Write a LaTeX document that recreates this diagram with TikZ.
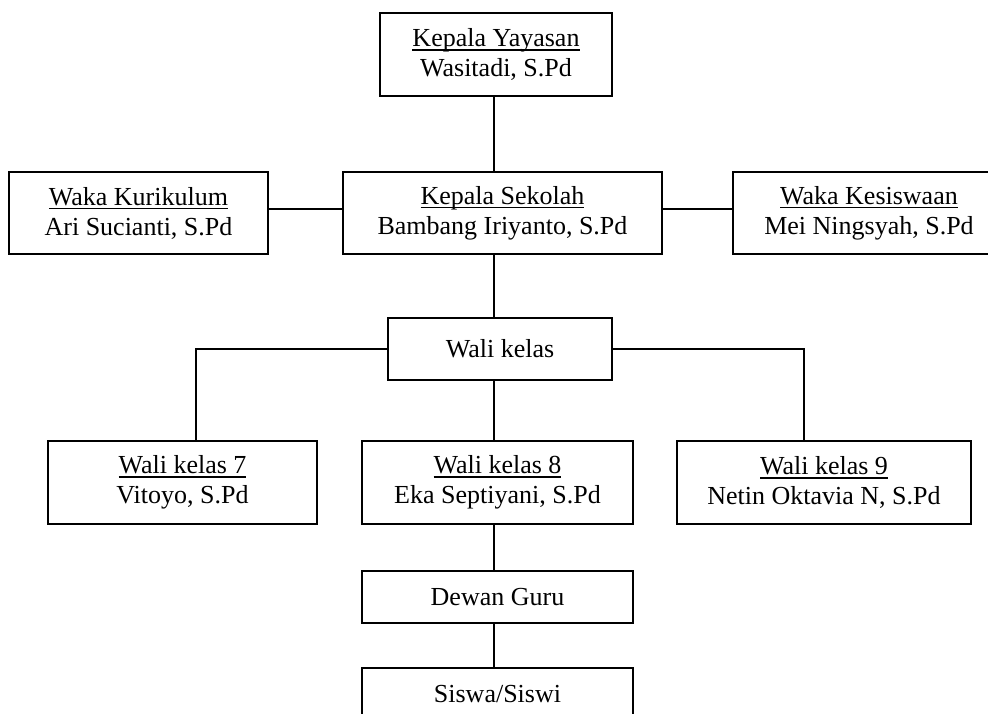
\documentclass[tikz,border=0pt]{standalone}
\usepackage{fontspec}
\setmainfont{Liberation Serif}
\newcommand{\myul}[1]{\setbox0\hbox{#1}\rlap{\rule[-4pt]{\wd0}{1.5pt}}\box0}
\begin{document}
\begin{tikzpicture}[x=1pt,y=-1pt,
  orgbox/.style={draw=black,line width=1.5pt,fill=white,inner sep=0pt,align=center,
     font=\fontsize{26}{30}\selectfont},
  conn/.style={draw=black,line width=1.5pt}]
\clip (0,0) rectangle (988,713);
\fill[white] (0,0) rectangle (988,713);
\coordinate (col) at (494,0);
\coordinate (h1) at (0,209);
\coordinate (c7) at (196,0);
\coordinate (c9) at (804,0);
% nodes
\node[orgbox,minimum width=232pt,minimum height=83pt] (KY) at (496,54.5) {\myul{Kepala Yayasan}\\Wasitadi, S.Pd};
\node[orgbox,minimum width=319pt,minimum height=82pt] (KS) at (502.5,213) {\myul{Kepala Sekolah}\\Bambang Iriyanto, S.Pd};
\node[orgbox,minimum width=259pt,minimum height=82pt] (WK) at (138.5,213) {\myul{Waka Kurikulum}\\Ari Sucianti, S.Pd};
\node[orgbox,minimum width=272pt,minimum height=82pt] (WKes) at (869,213) {\myul{Waka Kesiswaan}\\Mei Ningsyah, S.Pd};
\node[orgbox,minimum width=224pt,minimum height=62pt] (WKls) at (500,349) {Wali kelas};
\node[orgbox,minimum width=269pt,minimum height=83pt] (WK7) at (182.5,482.5) {\myul{Wali kelas 7}\\Vitoyo, S.Pd};
\node[orgbox,minimum width=271pt,minimum height=83pt] (WK8) at (497.5,482.5) {\myul{Wali kelas 8}\\Eka Septiyani, S.Pd};
\node[orgbox,minimum width=294pt,minimum height=83pt] (WK9) at (824,482.5) {\myul{Wali kelas 9}\\Netin Oktavia N, S.Pd};
\node[orgbox,minimum width=271pt,minimum height=52pt] (DG) at (497.5,597) {Dewan Guru};
\node[orgbox,minimum width=271pt,minimum height=52pt] (SS) at (497.5,694) {Siswa/Siswi};
% connectors
\draw[conn] (KY.south -| col) -- (KS.north -| col);
\draw[conn] (WK.east |- h1) -- (KS.west |- h1);
\draw[conn] (KS.east |- h1) -- (WKes.west |- h1);
\draw[conn] (KS.south -| col) -- (WKls.north -| col);
\draw[conn] (WKls.west) -| (WK7.north -| c7);
\draw[conn] (WKls.east) -| (WK9.north -| c9);
\draw[conn] (WKls.south -| col) -- (WK8.north -| col);
\draw[conn] (WK8.south -| col) -- (DG.north -| col);
\draw[conn] (DG.south -| col) -- (SS.north -| col);
\end{tikzpicture}
\end{document}
